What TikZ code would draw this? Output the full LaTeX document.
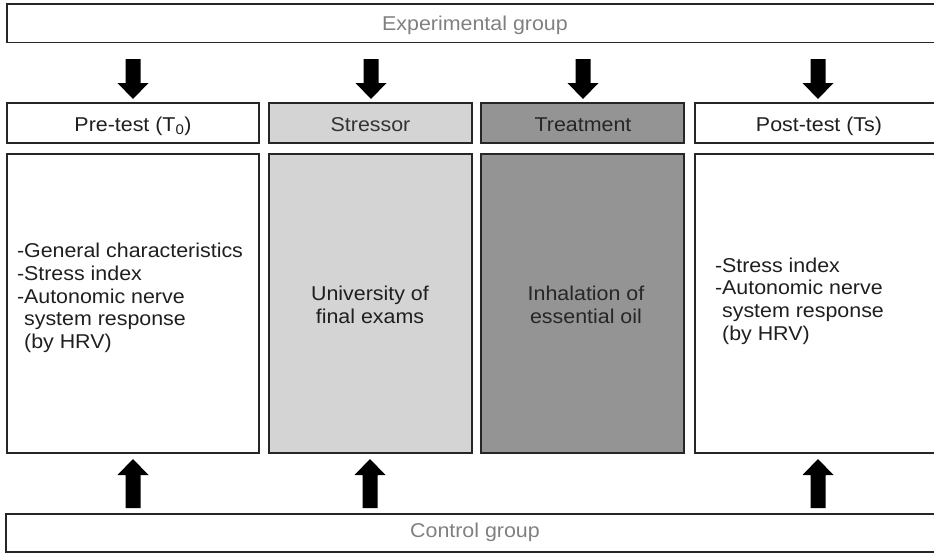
\documentclass[tikz,border=0pt]{standalone}
\usepackage{fontspec}
\setmainfont{Liberation Sans}[FakeStretch=1.07]
\definecolor{lightfill}{HTML}{D4D4D4}
\definecolor{darkfill}{HTML}{949494}
\definecolor{grouptext}{HTML}{808080}
\definecolor{edge}{HTML}{262626}
\begin{document}
\begin{tikzpicture}[x=1pt,y=-1pt,
  box/.style={draw=edge, line width=1.2pt, inner sep=0pt, outer sep=0pt},
  txt/.style={inner sep=0pt, outer sep=0pt, font=\fontsize{20}{22.7}\selectfont, text=black!88},
  grp/.style={txt, text=grouptext},
  darr/.pic={\fill[black] (-7.5,0) -- (7.5,0) -- (7.5,24) -- (15.5,24) -- (0,40) -- (-15.5,24) -- (-7.5,24) -- cycle;},
  uarr/.pic={\fill[black] (0,0) -- (15.5,16) -- (7.5,16) -- (7.5,49) -- (-7.5,49) -- (-7.5,16) -- (-15.5,16) -- cycle;}
]
\useasboundingbox (0,0) rectangle (934,554);

% group boxes
\node[box, minimum width=936pt, minimum height=38.7pt] (exp) at (475,23.35) {};
\node[grp, anchor=base] (exptxt) at (475,30.7) {Experimental group};
\node[box, minimum width=938pt, minimum height=38pt] (ctl) at (475,533) {};
\node[grp, anchor=base] (ctltxt) at (475,537.5) {Control group};

% header boxes
\node[box, minimum width=252pt, minimum height=40pt] (h1) at (133,123) {};
\node[box, fill=lightfill, minimum width=203pt, minimum height=40pt] (h2) at (370.5,123) {};
\node[box, fill=darkfill, minimum width=203pt, minimum height=40pt] (h3) at (582.5,123) {};
\node[box, minimum width=248pt, minimum height=40pt] (h4) at (819,123) {};
\node[txt, anchor=base] (h1t) at (133,131.5) {Pre-test (T\textsubscript{0})};
\node[txt, anchor=base, text=black!80] (h2t) at (370.5,131.5) {Stressor};
\node[txt, anchor=base, text=black!85] (h3t) at (583,131.5) {Treatment};
\node[txt, anchor=base] (h4t) at (819,131.5) {Post-test (Ts)};

% body boxes
\node[box, minimum width=252pt, minimum height=299pt] (b1) at (133,303.5) {};
\node[box, fill=lightfill, minimum width=203pt, minimum height=299pt] (b2) at (370.5,303.5) {};
\node[box, fill=darkfill, minimum width=203pt, minimum height=299pt] (b3) at (582.5,303.5) {};
\node[box, minimum width=248pt, minimum height=299pt] (b4) at (819,303.5) {};

\node[txt, anchor=west, align=left] (b1t) at (17,298)
  {-General characteristics\\-Stress index\\-Autonomic nerve\\\hphantom{-}system response\\\hphantom{-}(by HRV)};
\node[txt, align=center] (b2t) at (370,305) {University of\\final exams};
\node[txt, align=center, text=black!85] (b3t) at (586,305) {Inhalation of\\essential oil};
\node[txt, anchor=west, align=left] (b4t) at (715,301)
  {-Stress index\\-Autonomic nerve\\\hphantom{-}system response\\\hphantom{-}(by HRV)};

% arrows from experimental group
\coordinate (ea1) at (133,59);
\coordinate (ea2) at (371,59);
\coordinate (ea3) at (583,59);
\coordinate (ea4) at (818,59);
\pic at (ea1) {darr};
\pic at (ea2) {darr};
\pic at (ea3) {darr};
\pic at (ea4) {darr};

% arrows from control group
\coordinate (ca1) at (133,459);
\coordinate (ca2) at (370,459);
\coordinate (ca4) at (818,459);
\pic at (ca1) {uarr};
\pic at (ca2) {uarr};
\pic at (ca4) {uarr};
\end{tikzpicture}
\end{document}
